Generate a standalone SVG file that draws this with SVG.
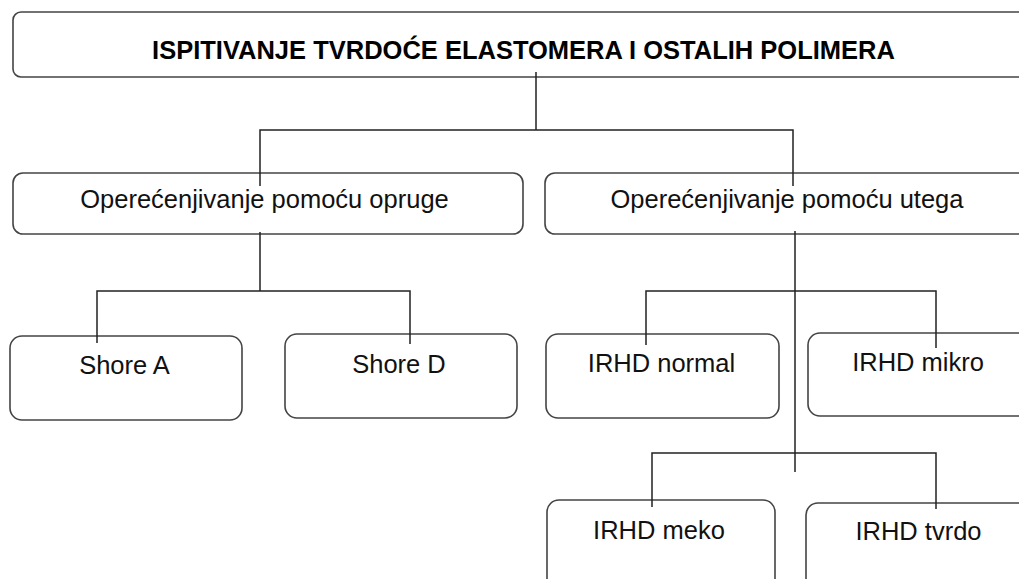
<svg xmlns="http://www.w3.org/2000/svg" width="1019" height="579" viewBox="0 0 1019 579">
<style>
.box{fill:#ffffff;stroke:#444444;stroke-width:1.6}
.t{font-family:"Liberation Sans",Arial,sans-serif;font-size:25.5px;fill:#111111;text-anchor:middle}
.tb{font-family:"Liberation Sans",Arial,sans-serif;font-size:25.5px;font-weight:bold;fill:#000000;text-anchor:middle}
.c{fill:none;stroke:#222222;stroke-width:1.5}
</style>
<rect width="1019" height="579" fill="#ffffff"/>
<g id="node-title">
<rect class="box" x="13" y="12" width="1030" height="65" rx="8"/>
<text class="tb" x="523.5" y="59">ISPITIVANJE TVRDOĆE ELASTOMERA I OSTALIH POLIMERA</text>
</g>
<g id="node-opruge">
<rect class="box" x="13" y="173" width="510" height="61" rx="10"/>
<text class="t" x="264.5" y="208">Operećenjivanje pomoću opruge</text>
</g>
<g id="node-utega">
<rect class="box" x="545" y="173" width="500" height="61" rx="10"/>
<text class="t" x="787" y="208">Operećenjivanje pomoću utega</text>
</g>
<g id="node-shoreA">
<rect class="box" x="10" y="336" width="232" height="84" rx="12"/>
<text class="t" x="124.5" y="374">Shore A</text>
</g>
<g id="node-shoreD">
<rect class="box" x="285" y="334" width="232" height="84" rx="12"/>
<text class="t" x="399" y="373">Shore D</text>
</g>
<g id="node-irhd-normal">
<rect class="box" x="546" y="334" width="233" height="84" rx="12"/>
<text class="t" x="661.5" y="372">IRHD normal</text>
</g>
<g id="node-irhd-mikro">
<rect class="box" x="808" y="333" width="240" height="83" rx="12"/>
<text class="t" x="918" y="371">IRHD mikro</text>
</g>
<g id="node-irhd-meko">
<rect class="box" x="547" y="500" width="228" height="100" rx="12"/>
<text class="t" x="659" y="539">IRHD meko</text>
</g>
<g id="node-irhd-tvrdo">
<rect class="box" x="806" y="503" width="240" height="100" rx="12"/>
<text class="t" x="918.5" y="540">IRHD tvrdo</text>
</g>
<g id="connectors">
<path class="c" d="M536 72 V130 M260 186 V130 H793 V186"/>
<path class="c" d="M260 232 V291 M97 343 V291 H410 V344"/>
<path class="c" d="M795 231 V472 M646 345 V291 H936 V348 M652 507 V453 H936 V509"/>
</g>
</svg>
